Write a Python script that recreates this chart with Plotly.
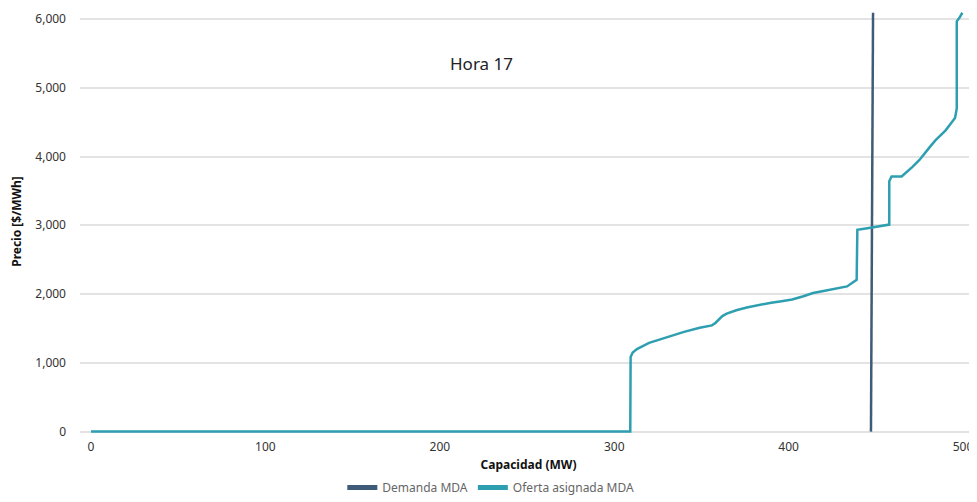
import plotly.graph_objects as go

# Curva de oferta asignada MDA (Hora 17)
oferta_mw = [0, 309.2, 309.4, 310.6, 313, 320, 330, 340, 349, 356, 358, 362, 364.5,
             370, 376, 383, 390, 395, 402, 408, 414, 420, 426, 433.5, 439, 439.4,
             446, 452, 457.7, 457.7, 459, 464.8, 468, 471, 475, 478, 481, 484,
             487, 490, 493, 495.4, 496.4, 496.4, 498, 499.6]
oferta_precio = [0, 0, 1085, 1150, 1200, 1290, 1370, 1450, 1510, 1545, 1580, 1680, 1715,
                 1765, 1805, 1845, 1875, 1893, 1920, 1965, 2015, 2045, 2075, 2111, 2208, 2935,
                 2960, 2990, 3010, 3640, 3710, 3710, 3780, 3850, 3950, 4050, 4140, 4230,
                 4300, 4380, 4480, 4560, 4700, 5965, 6020, 6090]

# Curva de demanda MDA
demanda_mw = [447.2, 448.4]
demanda_precio = [0, 6090]

x_ticks = [0, 100, 200, 300, 400, 500]
y_ticks = [0, 1000, 2000, 3000, 4000, 5000, 6000]

FONT = "Segoe UI, Noto Sans, sans-serif"

fig = go.Figure()
fig.add_trace(go.Scatter(
    x=demanda_mw, y=demanda_precio, mode="lines", name="Demanda MDA",
    line=dict(color="#3E5B78", width=2.5),
))
fig.add_trace(go.Scatter(
    x=oferta_mw, y=oferta_precio, mode="lines", name="Oferta asignada MDA",
    line=dict(color="#2E9FB0", width=2.5),
))

fig.add_annotation(
    text="Hora 17", x=0.448, y=0.905, xref="paper", yref="paper",
    showarrow=False, font=dict(family=FONT, size=17, color="#222222"),
)

# the page body keeps an 8px margin, so the figure is a bit smaller than the window
fig.update_layout(
    width=969, height=494,
    margin=dict(l=72, r=0, t=2, b=69),
    plot_bgcolor="white", paper_bgcolor="white",
    font=dict(family=FONT, size=12, color="#333333"),
    showlegend=True,
    legend=dict(orientation="h", x=0.458, xanchor="center",
                yref="container", y=-0.016, yanchor="bottom",
                font=dict(size=12, color="#666666"), itemwidth=30,
                tracegroupgap=0, itemsizing="constant"),
    xaxis=dict(
        range=[-6.3, 508], tickvals=x_ticks, showgrid=False, zeroline=False,
        showline=False, ticks="", tickfont=dict(size=12, color="#333333"),
        ticklabelstandoff=5, automargin=False,
        title=dict(text="<b>Capacidad (MW)</b>", font=dict(size=12, color="#111111"), standoff=10),
    ),
    yaxis=dict(
        range=[-20, 6130], tickvals=y_ticks, tickformat=",", showgrid=True,
        gridcolor="#E3E3E3", gridwidth=1.5, zeroline=False, showline=False,
        ticks="", tickfont=dict(size=12, color="#333333"),
        ticklabelstandoff=13, automargin=False,
        title=dict(text="<b>Precio [$/MWh]</b>", font=dict(size=12, color="#111111"), standoff=17),
    ),
)

fig.write_html("out.html")
